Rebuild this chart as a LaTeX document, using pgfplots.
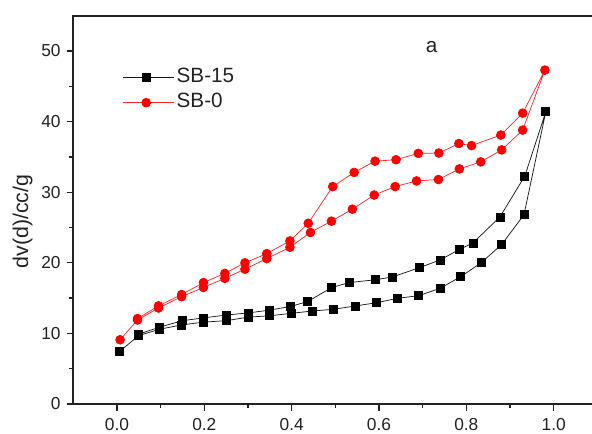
\documentclass[border=0pt]{standalone}
\usepackage{fontspec}
\setmainfont{Liberation Sans}
\usepackage{pgfplots}
\pgfplotsset{compat=1.18}
\definecolor{axgray}{HTML}{222222}
\begin{document}
\begin{tikzpicture}
\begin{axis}[
  scale only axis,
  width=393.0pt, height=291.2pt,
  xmin=-0.1, xmax=1.1, ymin=0, ymax=55,
  xtick={0,0.2,0.4,0.6,0.8,1.0},
  ytick={0,10,20,30,40,50},
  minor x tick num=1, minor y tick num=1,
  xtick pos=left, ytick pos=left,
  tick align=outside,
  major tick length=5pt, minor tick length=3pt,
  every tick/.style={axgray, line width=1pt},
  axis line style={axgray, line width=1.3pt},
  /pgf/number format/assume math mode=true,
  xticklabel style={/pgf/number format/fixed, /pgf/number format/fixed zerofill, /pgf/number format/precision=1, yshift=-2.5pt},
  yticklabel style={xshift=-1pt},
  ticklabel style={font=\fontsize{13}{15}\selectfont, text=axgray},
  ylabel={dv(d)/cc/g},
  ylabel style={font=\fontsize{16}{18}\selectfont, text=axgray, at={(axis description cs:-0.097,0.47)}, anchor=center, rotate=0},
  legend cell align=left,
  legend style={draw=none, fill=none, at={(axis cs:0.012,44.45)}, anchor=west,
    font=\fontsize{15.5}{17}\selectfont, text=axgray,
    nodes={text height=11pt, text depth=3.5pt, inner sep=2.1pt},
    inner sep=0pt, row sep=0pt},
  legend image code/.code={\draw[#1, mark repeat=2, mark phase=2] plot coordinates {(0pt,0pt) (17.5pt,0pt) (35pt,0pt)}; \path (35pt,0pt) -- (38pt,0pt);},
]
\addplot[black!90, line width=0.55pt, mark=square*, mark size=3pt, mark options={solid, fill=black, draw=black}] coordinates {
(0.005,7.4) (0.05,9.7) (0.098,10.6) (0.148,11.2) (0.198,11.6) (0.25,11.8) (0.30,12.3) (0.35,12.5) (0.40,12.85)
(0.447,13.17) (0.495,13.41) (0.545,13.88) (0.595,14.35) (0.642,14.97) (0.691,15.34) (0.740,16.39)
(0.787,18.03) (0.834,20.01) (0.881,22.6) (0.932,26.8) (0.982,41.4)
(0.934,32.3) (0.877,26.5) (0.815,22.8) (0.784,21.9) (0.740,20.4) (0.692,19.3) (0.631,18.0) (0.592,17.6)
(0.532,17.2) (0.492,16.5) (0.436,14.5) (0.396,13.8) (0.35,13.3) (0.30,12.9) (0.25,12.6) (0.198,12.2)
(0.15,11.8) (0.098,10.9) (0.05,9.9)
};
\addlegendentry{SB-15}
\addplot[red!85!white, line width=0.55pt, mark=*, mark size=3.3pt, mark options={solid, fill=red, draw=red}] coordinates {
(0.007,9.1) (0.047,11.9) (0.095,13.6) (0.148,15.2) (0.198,16.5) (0.247,17.8) (0.293,19.1) (0.343,20.6)
(0.396,22.2) (0.443,24.3) (0.491,25.9) (0.539,27.6) (0.589,29.6) (0.637,30.8) (0.686,31.6) (0.736,31.8)
(0.784,33.3) (0.833,34.3) (0.881,36.0) (0.929,38.8) (0.980,47.3)
(0.929,41.2) (0.879,38.1) (0.812,36.6) (0.783,36.9) (0.737,35.55) (0.690,35.5) (0.639,34.6) (0.591,34.4)
(0.543,32.8) (0.494,30.8) (0.438,25.6) (0.396,23.1) (0.343,21.3) (0.293,20.0) (0.247,18.5) (0.198,17.2)
(0.148,15.5) (0.095,13.9) (0.047,12.1)
};
\addlegendentry{SB-0}
\node[font=\fontsize{15.5}{17}\selectfont, text=axgray] at (axis cs:0.7206,50.6) {a};
\end{axis}
\pgfresetboundingbox
\useasboundingbox (-55pt,-22.5pt) rectangle (389pt,303pt);
\end{tikzpicture}
\end{document}
